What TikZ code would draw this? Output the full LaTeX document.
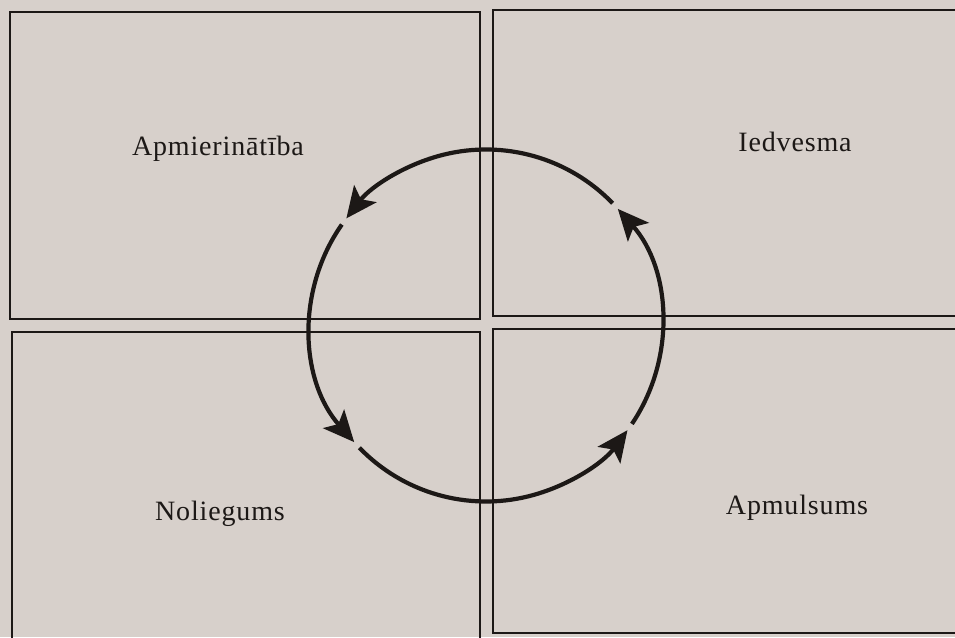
\documentclass[tikz,border=0pt]{standalone}
\usepackage{fontspec}
\setmainfont{Liberation Serif}[LetterSpace=3]
\usetikzlibrary{arrows.meta, positioning}
\definecolor{paper}{RGB}{215,208,203}
\definecolor{ink}{RGB}{28,24,22}

\begin{document}
\begin{tikzpicture}[
  x=1pt, y=1pt, >={Stealth[length=31pt, width=28pt, inset=7pt]},
  every node/.style={font=\fontsize{28}{30}\selectfont, text=ink},
  quad/.style={draw=ink, line width=2.2pt},
  cyc/.style={draw=ink, line width=4.2pt, ->},
  lab/.style={anchor=base}
]
  \useasboundingbox (0,0) rectangle (955,637);
  \fill[paper] (0,0) rectangle (955,637);
  \clip (0,0) rectangle (955,637);
  \draw[quad] (10,318) rectangle (480,625);
  \draw[quad] (493,321) rectangle (970,627);
  \draw[quad] (12,-10) rectangle (480,305);
  \draw[quad] (493,4) rectangle (970,308);
  \node[lab] (sat) at (218,481) {Apmierinātība};
  \node[lab] (insp) at (795,485) {Iedvesma};
  \node[lab] (den) at (220,116) {Noliegums};
  \node[lab] (daz) at (797,122) {Apmulsums};
  \coordinate (c) at (486,311.5);
  \draw[cyc] ([shift={(44:176)}]c) arc[start angle=44, end angle=142.5, radius=176];
  \draw[cyc] ([shift={(145:176)}]c) arc[start angle=145, end angle=221.5, radius=176];
  \draw[cyc] ([shift={(224:176)}]c) arc[start angle=224, end angle=323.5, radius=176];
  \draw[cyc] ([shift={(326:176)}]c) arc[start angle=326, end angle=401.5, radius=176];
\end{tikzpicture}
\end{document}
